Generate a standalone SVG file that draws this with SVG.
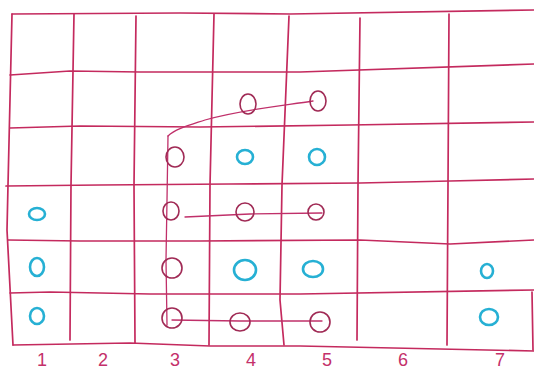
<svg xmlns="http://www.w3.org/2000/svg" width="534" height="370" viewBox="0 0 534 370">
<style>
.grid{fill:none;stroke:#c42a5e;stroke-width:1.7;stroke-linecap:round;stroke-linejoin:round}
.link{fill:none;stroke:#c0306a;stroke-width:1.3;stroke-linecap:round}
.p{fill:none;stroke:#a02a55;stroke-width:1.6}
.b{fill:none;stroke:#26b0d4;stroke-width:2.6}
.lbl{font-family:"Liberation Sans",Arial,sans-serif;font-size:18px;fill:#c4306a;text-anchor:middle}
</style>
<rect width="534" height="370" fill="#ffffff"/>
<g id="grid" class="grid">
<path d="M12,14 L180,13 L290,14 L534,10"/>
<path d="M10,75 L70,71 L140,72 L300,72 L534,64"/>
<path d="M10,128 L80,126 L200,127 L350,125 L534,122"/>
<path d="M6,186 L100,185 L230,184 L360,183 L450,181 L534,179"/>
<path d="M8,240 L80,241 L200,241 L360,240 L450,244 L534,240"/>
<path d="M10,293 L50,292 L150,294 L300,294 L534,290"/>
<path d="M13,345 L130,343 L210,346 L300,346 L534,351"/>
<path d="M12,14 L8,185 L7,230 L13,345"/>
<path d="M74,14 L71,185 L70,340"/>
<path d="M136,16 L134,185 L135,343"/>
<path d="M214,14 L210,185 L209,345"/>
<path d="M289,16 L282,185 L280,300 L284,345"/>
<path d="M360,18 L358,185 L357,340"/>
<path d="M449,14 L448,185 L447,345"/>
<path d="M532,292 L533,350"/>
</g>
<g id="connectors" class="link">
<path d="M313,101 C280,106 240,110 205,120 C190,125 175,129 168,136"/>
<path d="M168,136 L167,200 L166,260 L167,325"/>
<path d="M185,217 L250,214 L322,213"/>
<path d="M172,320 L240,321 L322,321"/>
</g>
<g id="n-r2c4"><ellipse class="p" cx="248" cy="104" rx="8" ry="10"/></g>
<g id="n-r2c5"><ellipse class="p" cx="318" cy="101" rx="8" ry="10"/></g>
<g id="n-r3c3"><ellipse class="p" cx="175" cy="157" rx="9" ry="10"/></g>
<g id="n-r3c4"><ellipse class="b" cx="245" cy="157" rx="8" ry="7"/></g>
<g id="n-r3c5"><ellipse class="b" cx="317" cy="157" rx="8" ry="8"/></g>
<g id="n-r4c1"><ellipse class="b" cx="37" cy="214" rx="8" ry="6"/></g>
<g id="n-r4c3"><ellipse class="p" cx="171" cy="211" rx="8" ry="9"/></g>
<g id="n-r4c4"><ellipse class="p" cx="245" cy="212" rx="9" ry="9"/></g>
<g id="n-r4c5"><ellipse class="p" cx="316" cy="212" rx="8" ry="8"/></g>
<g id="n-r5c1"><ellipse class="b" cx="37" cy="267" rx="7" ry="9"/></g>
<g id="n-r5c3"><ellipse class="p" cx="172" cy="268" rx="10" ry="10"/></g>
<g id="n-r5c4"><ellipse class="b" cx="245" cy="270" rx="11" ry="10"/></g>
<g id="n-r5c5"><ellipse class="b" cx="313" cy="269" rx="10" ry="8"/></g>
<g id="n-r5c7"><ellipse class="b" cx="487" cy="271" rx="6" ry="7"/></g>
<g id="n-r6c1"><ellipse class="b" cx="37" cy="316" rx="7" ry="8"/></g>
<g id="n-r6c3"><ellipse class="p" cx="172" cy="318" rx="10" ry="10"/></g>
<g id="n-r6c4"><ellipse class="p" cx="240" cy="322" rx="10" ry="9"/></g>
<g id="n-r6c5"><ellipse class="p" cx="320" cy="322" rx="10" ry="10"/></g>
<g id="n-r6c7"><ellipse class="b" cx="489" cy="317" rx="9" ry="8"/></g>
<g id="labels">
<text class="lbl" x="42" y="366">1</text>
<text class="lbl" x="103" y="366">2</text>
<text class="lbl" x="175" y="366">3</text>
<text class="lbl" x="251" y="366">4</text>
<text class="lbl" x="327" y="366">5</text>
<text class="lbl" x="403" y="366">6</text>
<text class="lbl" x="500" y="366">7</text>
</g>
</svg>
